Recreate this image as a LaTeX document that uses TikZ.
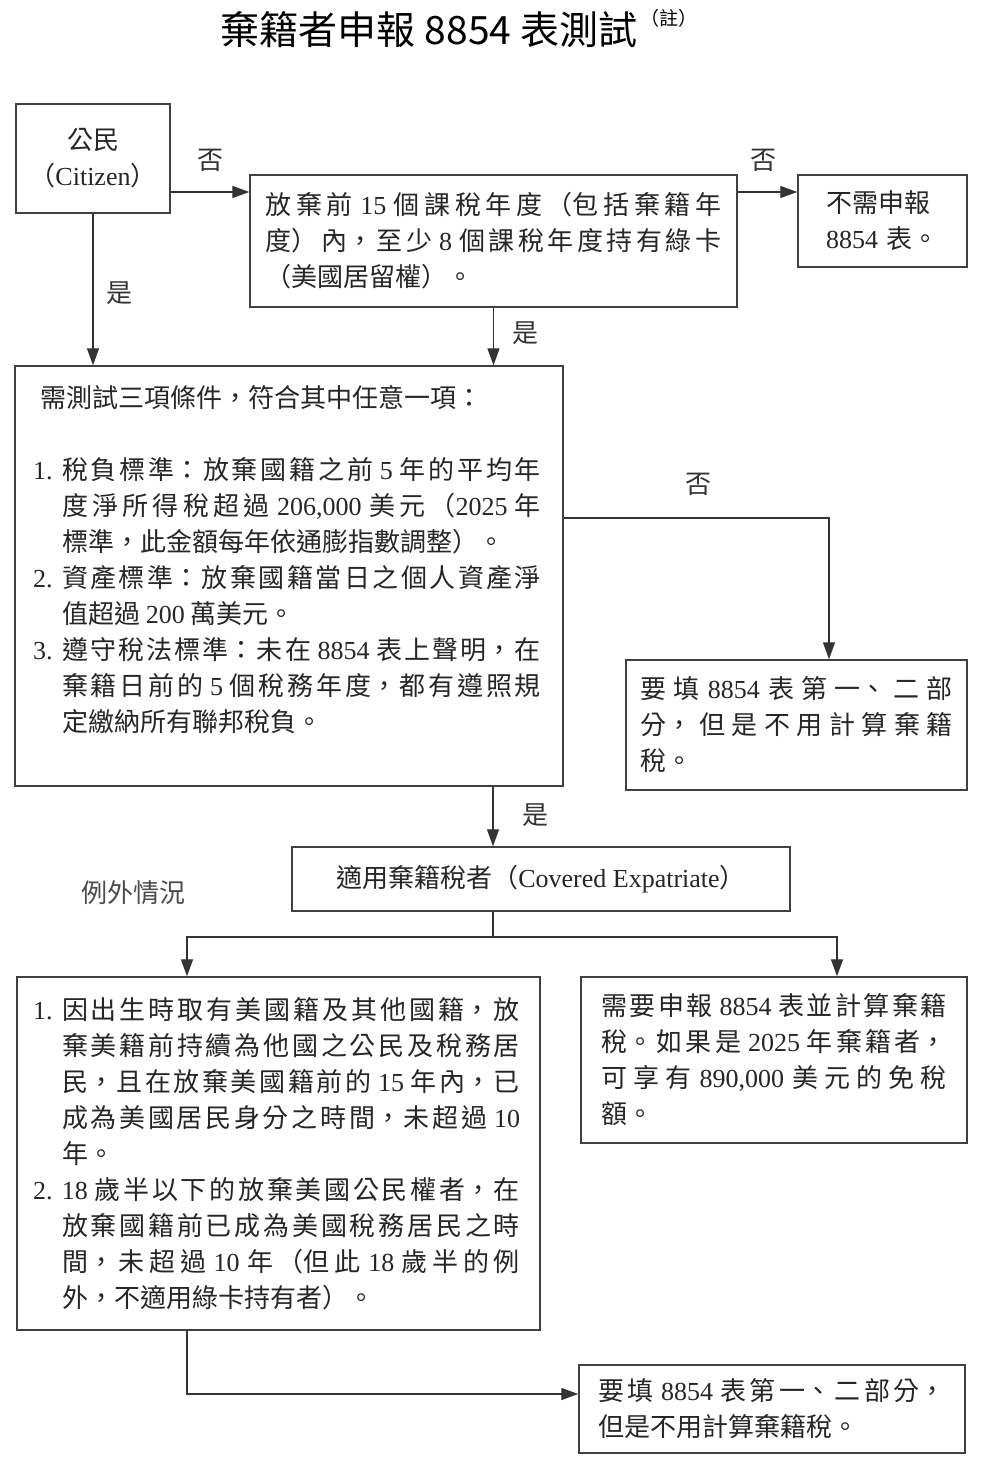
\documentclass[tikz,border=0pt]{standalone}
\usepackage{fontspec}
\setmainfont{Noto Sans CJK TC}
\newfontfamily\latfont{Liberation Serif}
\newcommand\en[1]{{\latfont #1}}
\newcommand\itm[1]{\hspace*{-4pt}\makebox[29pt][l]{\en{#1.}}}
\newcommand\ind{\hspace*{25pt}}
\XeTeXlinebreaklocale "zh"
\XeTeXlinebreakskip=0pt plus 8pt
\tolerance=10000
\hbadness=10000
\usepackage{tikz}
\usetikzlibrary{arrows.meta}

\begin{document}
\begin{tikzpicture}[x=1pt,y=-1pt,
    box/.style={draw=black!75,line width=1.5pt,inner ysep=0pt,text=black!85,font=\fontsize{26}{36}\selectfont},
    arr/.style={draw=black!80,line width=1.4pt,-{Triangle[length=17pt,width=12pt]}},
    lbl/.style={text=black!80,font=\fontsize{26}{30}\selectfont,inner sep=0pt}]
    \useasboundingbox[fill=white] (0,0) rectangle (981,1467);
    \node[inner sep=0pt,font=\fontsize{39}{42}\selectfont] (title) at (429,30) {棄籍者申報 8854 表測試};
    \node[inner sep=0pt,font=\fontsize{19}{20}\selectfont] (note) at (669,18) {（註）};
    \node[box,minimum width=154pt,minimum height=109pt,align=center] (citizen) at (93,158.5) {公民\\（\en{Citizen}）};
    \node[box,minimum height=132pt,inner xsep=15.5pt,text width=456pt,align=justify] (period) at (493.5,241)
        {放棄前 \en{15} 個課稅年度（包括棄籍年\linebreak 度）內，至少 \en{8} 個課稅年度持有綠卡\linebreak （美國居留權）。};
    \node[box,minimum height=92pt,inner xsep=28pt,text width=113pt,align=left] (nofile) at (882.5,221)
        {不需申報\\\en{8854} 表。};
    \node[box,minimum height=420pt,inner xsep=22pt,text width=504pt,align=justify] (tests) at (289,576)
        {\hspace*{3pt}需測試三項條件，符合其中任意一項：\\[36pt]
        \itm{1}稅負標準：放棄國籍之前 \en{5} 年的平均年\linebreak
        \ind 度淨所得稅超過 \en{206,000} 美元（\en{2025} 年\linebreak
        \ind 標準，此金額每年依通膨指數調整）。\\
        \itm{2}資產標準：放棄國籍當日之個人資產淨\linebreak
        \ind 值超過 \en{200} 萬美元。\\
        \itm{3}遵守稅法標準：未在 \en{8854} 表上聲明，在\linebreak
        \ind 棄籍日前的 \en{5} 個稅務年度，都有遵照規\linebreak
        \ind 定繳納所有聯邦稅負。\\ \mbox{}};
    \node[box,minimum height=130pt,inner xsep=14.5pt,text width=312pt,align=justify] (partonly) at (796.5,725)
        {要填 \en{8854} 表第一、二部\linebreak 分，但是不用計算棄籍\linebreak 稅。};
    \node[box,minimum width=498pt,minimum height=64pt] (covered) at (541,879)
        {適用棄籍稅者（\en{Covered Expatriate}）};
    \node[lbl,text=black!70] (except) at (133,893) {例外情況};
    \node[box,minimum height=353pt,inner xsep=20pt,text width=483pt,align=justify] (excep) at (278.5,1153.5)
        {\itm{1}因出生時取有美國籍及其他國籍，放\linebreak
        \ind 棄美籍前持續為他國之公民及稅務居\linebreak
        \ind 民，且在放棄美國籍前的 \en{15} 年內，已\linebreak
        \ind 成為美國居民身分之時間，未超過 \en{10}\linebreak
        \ind 年。\\
        \itm{2}\en{18} 歲半以下的放棄美國公民權者，在\linebreak
        \ind 放棄國籍前已成為美國稅務居民之時\linebreak
        \ind 間，未超過 \en{10} 年（但此 \en{18} 歲半的例\linebreak
        \ind 外，不適用綠卡持有者）。};
    \node[box,minimum height=166pt,inner xsep=20.5pt,text width=345pt,align=justify] (calc) at (774,1060)
        {需要申報 \en{8854} 表並計算棄籍\linebreak 稅。如果是 \en{2025} 年棄籍者，\linebreak 可享有 \en{890,000} 美元的免稅\linebreak 額。};
    \node[box,minimum height=88pt,inner xsep=19.5pt,text width=347pt,align=justify] (partonly2) at (772,1409)
        {要填 \en{8854} 表第一、二部分，\linebreak 但是不用計算棄籍稅。};
    \coordinate (r1) at (0,192);
    \coordinate (r2) at (829,518);
    \coordinate (c1) at (493,937);
    \coordinate (bl) at (187,937);
    \coordinate (br) at (837,937);
    \coordinate (r3) at (0,1394);
    \draw[arr] (citizen.east |- r1) -- (period.west |- r1);
    \draw[arr] (period.east |- r1) -- (nofile.west |- r1);
    \draw[arr] (citizen.south) -- (citizen.south |- tests.north);
    \draw[arr] (period.south) -- (period.south |- tests.north);
    \draw[arr] (tests.east |- r2) -| (r2 |- partonly.north);
    \draw[arr] (tests.south -| c1) -- (covered.north -| c1);
    \draw[arr] (covered.south -| c1) -- (c1) -| (excep.north -| bl);
    \draw[arr] (c1) -| (calc.north -| br);
    \draw[arr] (excep.south -| bl) |- (partonly2.west |- r3);
    \node[lbl] (no1) at (210,160) {否};
    \node[lbl] (no2) at (763,160) {否};
    \node[lbl] (yes1) at (119,293) {是};
    \node[lbl] (yes2) at (525,333) {是};
    \node[lbl] (no3) at (698,484) {否};
    \node[lbl] (yes3) at (535,815) {是};
\end{tikzpicture}
\end{document}
